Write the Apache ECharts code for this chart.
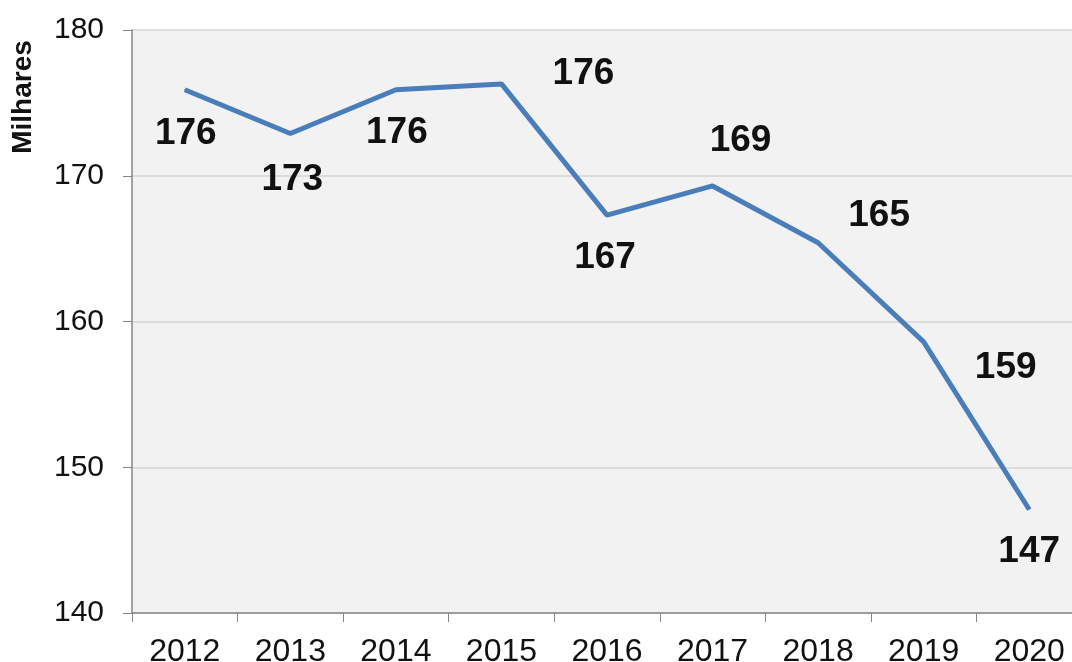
<!DOCTYPE html>
<html>
<head>
<meta charset="utf-8">
<script src="https://cdn.jsdelivr.net/npm/echarts@6/dist/echarts.min.js"></script>
<style>
  html, body { margin: 0; padding: 0; background: #fff; }
  #chart { width: 1072px; height: 662px; }
</style>
</head>
<body>
<div id="chart"></div>
<script>
// values (thousands)
const years = ['2012', '2013', '2014', '2015', '2016', '2017', '2018', '2019', '2020'];
const values = [175.9, 172.9, 175.9, 176.3, 167.3, 169.3, 165.4, 158.6, 147.1];
// where each data label sits relative to its point
const labelOffsets = [[1, 44], [2, 46], [1, 43], [82, -10], [-2, 43], [28, -45], [61, -27], [82, 26], [0, 42]];

const chart = echarts.init(document.getElementById('chart'));

const seriesData = values.map((v, i) => ({
  value: v,
  label: { offset: labelOffsets[i] }
}));

chart.setOption({
  animation: false,
  grid: { left: 132, width: 950, top: 30, bottom: 49, outerBoundsMode: 'none', containLabel: false },
  graphic: [{
    type: 'text',
    x: 23, y: 97,
    rotation: Math.PI / 2,
    style: {
      text: 'Milhares',
      font: 'bold 28px "Liberation Sans", Arial, sans-serif',
      fill: '#111',
      textAlign: 'center',
      textVerticalAlign: 'middle'
    }
  }],
  xAxis: {
    type: 'category',
    data: years,
    boundaryGap: true,
    axisLine: { lineStyle: { color: '#868686', width: 1.5 } },
    axisTick: { show: true, length: 9, lineStyle: { color: '#868686' } },
    axisLabel: {
      color: '#111',
      fontSize: 32,
      fontFamily: '"Liberation Sans", Arial, sans-serif',
      margin: 23
    },
    splitLine: { show: false }
  },
  yAxis: {
    type: 'value',
    min: 140, max: 180, interval: 10,
    axisLine: { show: true, lineStyle: { color: '#868686', width: 1.5 } },
    axisTick: { show: true, length: 9, lineStyle: { color: '#868686' } },
    axisLabel: {
      color: '#111',
      fontSize: 30,
      fontFamily: '"Liberation Sans", Arial, sans-serif',
      margin: 28
    },
    splitLine: { show: true, lineStyle: { color: '#d4d4d4', width: 1.5 } },
    splitArea: { show: true, areaStyle: { color: ['#f2f2f2', '#f2f2f2'] } }
  },
  series: [{
    type: 'line',
    data: seriesData,
    symbol: 'circle',
    symbolSize: 1,
    itemStyle: { color: '#4a7ebb' },
    lineStyle: { color: '#4a7ebb', width: 5 },
    label: {
      show: true,
      position: 'inside',
      formatter: p => Math.round(p.value),
      color: '#111',
      fontSize: 37,
      fontWeight: 'bold',
      fontFamily: '"Liberation Sans", Arial, sans-serif'
    }
  }]
});
</script>
</body>
</html>
